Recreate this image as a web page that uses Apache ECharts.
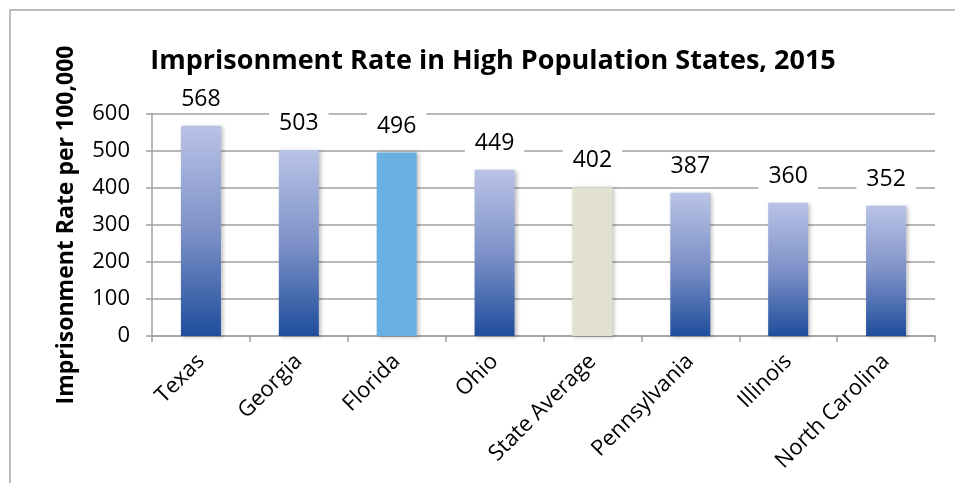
<!DOCTYPE html>
<html>
<head>
<meta charset="utf-8">
<script src="https://cdn.jsdelivr.net/npm/echarts@6/dist/echarts.min.js"></script>
<style>html,body{margin:0;padding:0;background:#fff;}#c{width:955px;height:483px;}</style>
</head>
<body>
<div id="c"></div>
<script>
const categories = ['Texas', 'Georgia', 'Florida', 'Ohio', 'State Average', 'Pennsylvania', 'Illinois', 'North Carolina'];
const rates = [568, 503, 496, 449, 402, 387, 360, 352];
const yTicks = [0, 100, 200, 300, 400, 500, 600];
const titleText = 'Imprisonment Rate in High Population States, 2015';
const yAxisName = 'Imprisonment Rate per 100,000';

const gradient = new echarts.graphic.LinearGradient(0, 0, 0, 1, [
  { offset: 0, color: '#b9c3e6' },
  { offset: 0.5, color: '#7e92c8' },
  { offset: 1, color: '#1f4d9c' }
]);
const specialColors = { 'Florida': '#6aafe1', 'State Average': '#e2e0cf' };

const chart = echarts.init(document.getElementById('c'), null, { renderer: 'canvas' });
chart.setOption({
  animation: false,
  backgroundColor: '#fff',
  title: {
    text: titleText,
    left: 488, top: 43, textAlign: 'center',
    textStyle: { fontFamily: 'Open Sans', fontWeight: 'bold', fontSize: 27, color: '#000' }
  },
  graphic: [{
    type: 'polyline', silent: true,
    shape: { points: [[10, 483], [10, 10], [955, 10]] },
    style: { stroke: '#a6a6a6', lineWidth: 1.5, fill: null }
  }],
  grid: { left: 152, right: 20, top: 114, bottom: 147 },
  xAxis: {
    type: 'category',
    data: categories,
    axisLine: { lineStyle: { color: '#a0a0a0', width: 1.5 } },
    axisTick: { show: true, length: 6, lineStyle: { color: '#a0a0a0', width: 1.5 } },
    axisLabel: { rotate: 45, fontFamily: 'Open Sans', fontSize: 22, color: '#000', margin: 22, interval: 0 }
  },
  yAxis: {
    type: 'value',
    min: yTicks[0], max: yTicks[yTicks.length - 1], interval: 100,
    name: yAxisName,
    nameLocation: 'middle', nameGap: 74, nameRotate: 90,
    nameTextStyle: { fontFamily: 'Open Sans', fontWeight: 'bold', fontSize: 23, color: '#000' },
    axisLine: { show: true, lineStyle: { color: '#a0a0a0', width: 1.5 } },
    axisTick: { show: true, length: 6, lineStyle: { color: '#a0a0a0', width: 1.5 } },
    axisLabel: { fontFamily: 'Open Sans', fontSize: 22, color: '#000', margin: 22 },
    splitLine: { lineStyle: { color: '#a0a0a0', width: 1.5 } }
  },
  series: [{
    type: 'bar',
    barWidth: 40,
    data: categories.map((c, i) => ({
      value: rates[i],
      itemStyle: { color: specialColors[c] || gradient }
    })),
    itemStyle: { shadowBlur: 4, shadowOffsetX: 2, shadowOffsetY: 1, shadowColor: 'rgba(0,0,0,0.25)' },
    label: {
      show: true, position: 'top', distance: 13,
      fontFamily: 'Open Sans', fontSize: 23, color: '#000',
      backgroundColor: '#fff', padding: [2, 10]
    }
  }]
});
</script>
</body>
</html>
